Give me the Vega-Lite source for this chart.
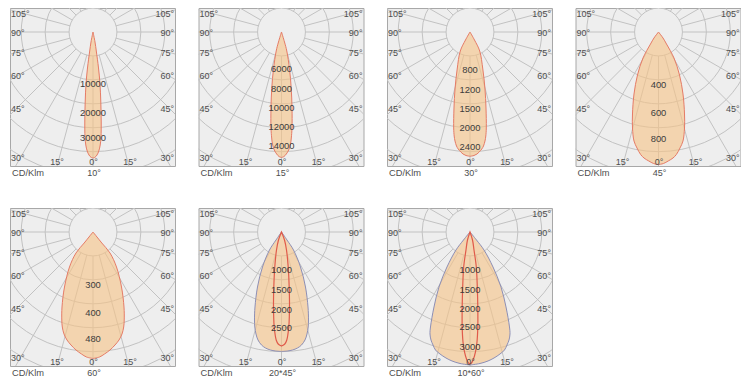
{
"$schema":"https://vega.github.io/schema/vega-lite/v6.json",
"padding":{"left":9,"top":7,"right":0,"bottom":0},
"bounds":"flush",
"columns":4,
"spacing":{"row":42,"column":23.5},
"config":{"view":{"fill":"#eeeeee","stroke":"#a8a8a8","strokeWidth":1},"text":{"font":"Liberation Sans"}},
"datasets":{
"rings":[{"x":0,"y":0,"r":2},{"x":0,"y":0,"r":3},{"x":0,"y":0,"r":4},{"x":0,"y":0,"r":5},{"x":0,"y":0,"r":6},{"x":0,"y":0,"r":7},{"x":0,"y":0,"r":8},{"x":0,"y":0,"r":9}],
"spokes":[
{"x":0,"y":0,"x2":0,"y2":12},{"x":0,"y":0,"x2":3.106,"y2":11.591},{"x":0,"y":0,"x2":6,"y2":10.392},{"x":0,"y":0,"x2":8.485,"y2":8.485},{"x":0,"y":0,"x2":10.392,"y2":6},{"x":0,"y":0,"x2":11.591,"y2":3.106},
{"x":0,"y":0,"x2":12,"y2":0},{"x":0,"y":0,"x2":11.591,"y2":-3.106},{"x":0,"y":0,"x2":10.392,"y2":-6},{"x":0,"y":0,"x2":8.485,"y2":-8.485},{"x":0,"y":0,"x2":6,"y2":-10.392},{"x":0,"y":0,"x2":3.106,"y2":-11.591},
{"x":0,"y":0,"x2":0,"y2":-12},{"x":0,"y":0,"x2":-3.106,"y2":-11.591},{"x":0,"y":0,"x2":-6,"y2":-10.392},{"x":0,"y":0,"x2":-8.485,"y2":-8.485},{"x":0,"y":0,"x2":-10.392,"y2":-6},{"x":0,"y":0,"x2":-11.591,"y2":-3.106},
{"x":0,"y":0,"x2":-12,"y2":0},{"x":0,"y":0,"x2":-11.591,"y2":3.106},{"x":0,"y":0,"x2":-10.392,"y2":6},{"x":0,"y":0,"x2":-8.485,"y2":8.485},{"x":0,"y":0,"x2":-6,"y2":10.392},{"x":0,"y":0,"x2":-3.106,"y2":11.591}],
"angA":[
{"s":"L","t":"105°","x":-3.037,"y":-0.667},{"s":"L","t":"90°","x":-3.037,"y":0.037},{"s":"L","t":"75°","x":-3.037,"y":0.778},{"s":"L","t":"60°","x":-3.037,"y":1.63},{"s":"L","t":"45°","x":-3.037,"y":2.852},{"s":"L","t":"30°","x":-3.037,"y":4.667},
{"s":"R","t":"105°","x":3.0,"y":-0.667},{"s":"R","t":"90°","x":3.0,"y":0.037},{"s":"R","t":"75°","x":3.0,"y":0.778},{"s":"R","t":"60°","x":3.0,"y":1.63},{"s":"R","t":"45°","x":3.0,"y":2.852},{"s":"R","t":"30°","x":3.0,"y":4.667},
{"s":"B","t":"15°","x":-1.333,"y":4.815},{"s":"B","t":"0°","x":0.019,"y":4.815},{"s":"B","t":"15°","x":1.37,"y":4.815},
{"s":"K","t":"CD/Klm","x":-3.0,"y":5.222}],
"angB":[
{"s":"L","t":"105°","x":-4.316,"y":-0.947},{"s":"L","t":"90°","x":-4.316,"y":0.053},{"s":"L","t":"75°","x":-4.316,"y":1.105},{"s":"L","t":"60°","x":-4.316,"y":2.316},{"s":"L","t":"45°","x":-4.316,"y":4.053},{"s":"L","t":"30°","x":-4.316,"y":6.632},
{"s":"R","t":"105°","x":4.263,"y":-0.947},{"s":"R","t":"90°","x":4.263,"y":0.053},{"s":"R","t":"75°","x":4.263,"y":1.105},{"s":"R","t":"60°","x":4.263,"y":2.316},{"s":"R","t":"45°","x":4.263,"y":4.053},{"s":"R","t":"30°","x":4.263,"y":6.632},
{"s":"B","t":"15°","x":-1.895,"y":6.842},{"s":"B","t":"0°","x":0.026,"y":6.842},{"s":"B","t":"15°","x":1.947,"y":6.842},
{"s":"K","t":"CD/Klm","x":-4.263,"y":7.421}],
"beam":[
{"p":1,"t":"10°","x":0.037,"y":5.222},{"p":2,"t":"15°","x":0.053,"y":7.421},{"p":3,"t":"30°","x":0.053,"y":7.421},{"p":4,"t":"45°","x":0.037,"y":5.222},
{"p":5,"t":"60°","x":0.037,"y":5.222},{"p":6,"t":"20*45°","x":0.053,"y":7.421},{"p":7,"t":"10*60°","x":0.053,"y":7.421}],
"vals":[
{"p":1,"t":"10000","x":0,"y":1.93},{"p":1,"t":"20000","x":0,"y":3.0},{"p":1,"t":"30000","x":0,"y":3.93},
{"p":2,"t":"6000","x":0,"y":1.96},{"p":2,"t":"8000","x":0,"y":3.02},{"p":2,"t":"10000","x":0,"y":4.02},{"p":2,"t":"12000","x":0,"y":5.02},{"p":2,"t":"14000","x":0,"y":6.02},
{"p":3,"t":"800","x":0,"y":2.0},{"p":3,"t":"1200","x":0,"y":3.07},{"p":3,"t":"1500","x":0,"y":4.07},{"p":3,"t":"2000","x":0,"y":5.07},{"p":3,"t":"2400","x":0,"y":6.07},
{"p":4,"t":"400","x":0,"y":1.97},{"p":4,"t":"600","x":0,"y":3.01},{"p":4,"t":"800","x":0,"y":3.97},
{"p":5,"t":"300","x":0,"y":1.95},{"p":5,"t":"400","x":0,"y":2.99},{"p":5,"t":"480","x":0,"y":3.95},
{"p":6,"t":"1000","x":0,"y":2.0},{"p":6,"t":"1500","x":0,"y":3.07},{"p":6,"t":"2000","x":0,"y":4.08},{"p":6,"t":"2500","x":0,"y":5.05},
{"p":7,"t":"1000","x":0,"y":1.98},{"p":7,"t":"1500","x":0,"y":3.03},{"p":7,"t":"2000","x":0,"y":4.05},{"p":7,"t":"2500","x":0,"y":5.0},{"p":7,"t":"3000","x":0,"y":6.04}],
"lobes":[
{"p":1,"c":"o","y":0,"x":0,"x2":0},{"p":1,"c":"o","y":0.37,"x":-0.074,"x2":0.074},{"p":1,"c":"o","y":0.704,"x":-0.122,"x2":0.122},{"p":1,"c":"o","y":1.333,"x":-0.204,"x2":0.204},{"p":1,"c":"o","y":1.926,"x":-0.259,"x2":0.259},{"p":1,"c":"o","y":2.593,"x":-0.289,"x2":0.289},{"p":1,"c":"o","y":3.333,"x":-0.304,"x2":0.304},{"p":1,"c":"o","y":3.889,"x":-0.296,"x2":0.296},{"p":1,"c":"o","y":4.185,"x":-0.267,"x2":0.267},{"p":1,"c":"o","y":4.407,"x":-0.215,"x2":0.215},{"p":1,"c":"o","y":4.556,"x":-0.148,"x2":0.148},{"p":1,"c":"o","y":4.641,"x":-0.074,"x2":0.074},{"p":1,"c":"o","y":4.667,"x":0,"x2":0},
{"p":2,"c":"o","y":0,"x":0,"x2":0},{"p":2,"c":"o","y":0.526,"x":-0.158,"x2":0.158},{"p":2,"c":"o","y":1.0,"x":-0.279,"x2":0.279},{"p":2,"c":"o","y":1.947,"x":-0.421,"x2":0.421},{"p":2,"c":"o","y":2.947,"x":-0.511,"x2":0.511},{"p":2,"c":"o","y":4.0,"x":-0.553,"x2":0.553},{"p":2,"c":"o","y":5.053,"x":-0.553,"x2":0.553},{"p":2,"c":"o","y":5.579,"x":-0.516,"x2":0.516},{"p":2,"c":"o","y":5.895,"x":-0.474,"x2":0.474},{"p":2,"c":"o","y":6.211,"x":-0.379,"x2":0.379},{"p":2,"c":"o","y":6.421,"x":-0.253,"x2":0.253},{"p":2,"c":"o","y":6.553,"x":-0.132,"x2":0.132},{"p":2,"c":"o","y":6.605,"x":0,"x2":0},
{"p":3,"c":"o","y":0,"x":0,"x2":0},{"p":3,"c":"o","y":0.421,"x":-0.237,"x2":0.237},{"p":3,"c":"o","y":1.0,"x":-0.511,"x2":0.511},{"p":3,"c":"o","y":1.947,"x":-0.674,"x2":0.674},{"p":3,"c":"o","y":3.0,"x":-0.789,"x2":0.789},{"p":3,"c":"o","y":4.0,"x":-0.842,"x2":0.842},{"p":3,"c":"o","y":5.053,"x":-0.858,"x2":0.858},{"p":3,"c":"o","y":5.474,"x":-0.832,"x2":0.832},{"p":3,"c":"o","y":5.737,"x":-0.789,"x2":0.789},{"p":3,"c":"o","y":6.0,"x":-0.711,"x2":0.711},{"p":3,"c":"o","y":6.158,"x":-0.621,"x2":0.621},{"p":3,"c":"o","y":6.316,"x":-0.484,"x2":0.484},{"p":3,"c":"o","y":6.421,"x":-0.368,"x2":0.368},{"p":3,"c":"o","y":6.5,"x":-0.211,"x2":0.211},{"p":3,"c":"o","y":6.542,"x":0,"x2":0},
{"p":4,"c":"o","y":0,"x":0,"x2":0},{"p":4,"c":"o","y":0.222,"x":-0.167,"x2":0.167},{"p":4,"c":"o","y":0.444,"x":-0.296,"x2":0.296},{"p":4,"c":"o","y":0.963,"x":-0.574,"x2":0.574},{"p":4,"c":"o","y":1.593,"x":-0.778,"x2":0.778},{"p":4,"c":"o","y":2.296,"x":-0.907,"x2":0.907},{"p":4,"c":"o","y":3.037,"x":-0.963,"x2":0.963},{"p":4,"c":"o","y":3.556,"x":-0.963,"x2":0.963},{"p":4,"c":"o","y":4.037,"x":-0.907,"x2":0.907},{"p":4,"c":"o","y":4.296,"x":-0.796,"x2":0.796},{"p":4,"c":"o","y":4.541,"x":-0.659,"x2":0.659},{"p":4,"c":"o","y":4.667,"x":-0.537,"x2":0.537},{"p":4,"c":"o","y":4.778,"x":-0.359,"x2":0.359},{"p":4,"c":"o","y":4.87,"x":-0.185,"x2":0.185},{"p":4,"c":"o","y":4.911,"x":0,"x2":0},
{"p":5,"c":"o","y":0,"x":0,"x2":0},{"p":5,"c":"o","y":0.185,"x":-0.148,"x2":0.148},{"p":5,"c":"o","y":0.407,"x":-0.326,"x2":0.326},{"p":5,"c":"o","y":0.778,"x":-0.63,"x2":0.63},{"p":5,"c":"o","y":1.296,"x":-0.87,"x2":0.87},{"p":5,"c":"o","y":2.037,"x":-1.056,"x2":1.056},{"p":5,"c":"o","y":2.778,"x":-1.148,"x2":1.148},{"p":5,"c":"o","y":3.259,"x":-1.156,"x2":1.156},{"p":5,"c":"o","y":3.519,"x":-1.137,"x2":1.137},{"p":5,"c":"o","y":3.778,"x":-1.074,"x2":1.074},{"p":5,"c":"o","y":4.0,"x":-0.963,"x2":0.963},{"p":5,"c":"o","y":4.185,"x":-0.815,"x2":0.815},{"p":5,"c":"o","y":4.37,"x":-0.63,"x2":0.63},{"p":5,"c":"o","y":4.519,"x":-0.426,"x2":0.426},{"p":5,"c":"o","y":4.63,"x":-0.241,"x2":0.241},{"p":5,"c":"o","y":4.685,"x":0,"x2":0},
{"p":6,"c":"o","y":0,"x":0,"x2":0},{"p":6,"c":"o","y":0.421,"x":-0.289,"x2":0.289},{"p":6,"c":"o","y":0.947,"x":-0.632,"x2":0.632},{"p":6,"c":"o","y":1.842,"x":-1.0,"x2":1.0},{"p":6,"c":"o","y":2.895,"x":-1.263,"x2":1.263},{"p":6,"c":"o","y":3.947,"x":-1.395,"x2":1.395},{"p":6,"c":"o","y":4.632,"x":-1.421,"x2":1.421},{"p":6,"c":"o","y":5.0,"x":-1.405,"x2":1.405},{"p":6,"c":"o","y":5.368,"x":-1.342,"x2":1.342},{"p":6,"c":"o","y":5.684,"x":-1.237,"x2":1.237},{"p":6,"c":"o","y":5.947,"x":-1.053,"x2":1.053},{"p":6,"c":"o","y":6.105,"x":-0.842,"x2":0.842},{"p":6,"c":"o","y":6.211,"x":-0.579,"x2":0.579},{"p":6,"c":"o","y":6.263,"x":-0.316,"x2":0.316},{"p":6,"c":"o","y":6.289,"x":0,"x2":0},
{"p":6,"c":"i","y":0,"x":0,"x2":0},{"p":6,"c":"i","y":0.421,"x":-0.158,"x2":0.158},{"p":6,"c":"i","y":0.947,"x":-0.263,"x2":0.263},{"p":6,"c":"i","y":1.842,"x":-0.353,"x2":0.353},{"p":6,"c":"i","y":2.895,"x":-0.405,"x2":0.405},{"p":6,"c":"i","y":3.684,"x":-0.421,"x2":0.421},{"p":6,"c":"i","y":4.474,"x":-0.411,"x2":0.411},{"p":6,"c":"i","y":5.0,"x":-0.384,"x2":0.384},{"p":6,"c":"i","y":5.421,"x":-0.332,"x2":0.332},{"p":6,"c":"i","y":5.684,"x":-0.279,"x2":0.279},{"p":6,"c":"i","y":5.895,"x":-0.174,"x2":0.174},{"p":6,"c":"i","y":6.0,"x":0,"x2":0},
{"p":7,"c":"o","y":0,"x":0,"x2":0},{"p":7,"c":"o","y":0.421,"x":-0.342,"x2":0.342},{"p":7,"c":"o","y":0.947,"x":-0.737,"x2":0.737},{"p":7,"c":"o","y":1.842,"x":-1.211,"x2":1.211},{"p":7,"c":"o","y":2.895,"x":-1.632,"x2":1.632},{"p":7,"c":"o","y":3.947,"x":-1.895,"x2":1.895},{"p":7,"c":"o","y":5.0,"x":-2.079,"x2":2.079},{"p":7,"c":"o","y":5.368,"x":-2.105,"x2":2.105},{"p":7,"c":"o","y":5.684,"x":-2.053,"x2":2.053},{"p":7,"c":"o","y":5.947,"x":-1.947,"x2":1.947},{"p":7,"c":"o","y":6.211,"x":-1.816,"x2":1.816},{"p":7,"c":"o","y":6.421,"x":-1.579,"x2":1.579},{"p":7,"c":"o","y":6.632,"x":-1.263,"x2":1.263},{"p":7,"c":"o","y":6.789,"x":-0.947,"x2":0.947},{"p":7,"c":"o","y":6.921,"x":-0.526,"x2":0.526},{"p":7,"c":"o","y":7.0,"x":0,"x2":0},
{"p":7,"c":"i","y":0,"x":0,"x2":0},{"p":7,"c":"i","y":0.421,"x":-0.132,"x2":0.132},{"p":7,"c":"i","y":0.947,"x":-0.211,"x2":0.211},{"p":7,"c":"i","y":1.842,"x":-0.332,"x2":0.332},{"p":7,"c":"i","y":2.895,"x":-0.384,"x2":0.384},{"p":7,"c":"i","y":3.947,"x":-0.411,"x2":0.411},{"p":7,"c":"i","y":5.0,"x":-0.411,"x2":0.411},{"p":7,"c":"i","y":5.789,"x":-0.368,"x2":0.368},{"p":7,"c":"i","y":6.316,"x":-0.289,"x2":0.289},{"p":7,"c":"i","y":6.684,"x":-0.184,"x2":0.184},{"p":7,"c":"i","y":6.895,"x":-0.079,"x2":0.079},{"p":7,"c":"i","y":6.947,"x":0,"x2":0}]
},
"concat":[
{"width":165,"height":158,
"encoding":{"x":{"field":"x","type":"quantitative","axis":null,"stack":null,"scale":{"domain":[-3.074,3.037],"nice":false,"zero":false}},"y":{"field":"y","type":"quantitative","axis":null,"stack":null,"scale":{"domain":[-0.889,4.963],"nice":false,"zero":false,"reverse":true}}},
"layer":[
{"data":{"name":"rings"},"mark":{"type":"point","shape":"circle","filled":false,"stroke":"#c2c2c2","strokeWidth":1,"opacity":1,"clip":true},"encoding":{"size":{"field":"r","type":"quantitative","legend":null,"scale":{"type":"pow","exponent":2,"domain":[0,1],"range":[0,2290.2]}}}},
{"data":{"name":"spokes"},"mark":{"type":"rule","stroke":"#c2c2c2","strokeWidth":1,"clip":true},"encoding":{"x2":{"field":"x2"},"y2":{"field":"y2"}}},
{"data":{"values":[{"x":0,"y":0,"r":1}]},"mark":{"type":"point","shape":"circle","filled":true,"fill":"#eeeeee","stroke":"#c2c2c2","strokeWidth":1,"opacity":1,"clip":true},"encoding":{"size":{"field":"r","type":"quantitative","legend":null,"scale":{"type":"pow","exponent":2,"domain":[0,1],"range":[0,2290.2]}}}},
{"data":{"name":"lobes"},"transform":[{"filter":"datum.p==1 && datum.c=='o'"}],"mark":{"type":"area","orient":"horizontal","interpolate":"catmull-rom","fill":"#f5c388","fillOpacity":0.62,"stroke":"#e57b66","strokeWidth":1},"encoding":{"x2":{"field":"x2"}}},
{"data":{"name":"vals"},"transform":[{"filter":"datum.p==1"}],"mark":{"type":"text","fontSize":9.4,"color":"#3c3c3c","align":"center","baseline":"middle"},"encoding":{"text":{"field":"t"}}},
{"data":{"name":"angA"},"transform":[{"filter":"datum.s=='L'"}],"mark":{"type":"text","fontSize":9,"color":"#4d4d4d","align":"left","baseline":"middle"},"encoding":{"text":{"field":"t"}}},
{"data":{"name":"angA"},"transform":[{"filter":"datum.s=='R'"}],"mark":{"type":"text","fontSize":9,"color":"#4d4d4d","align":"right","baseline":"middle"},"encoding":{"text":{"field":"t"}}},
{"data":{"name":"angA"},"transform":[{"filter":"datum.s=='B'"}],"mark":{"type":"text","fontSize":9,"color":"#4d4d4d","align":"center","baseline":"middle"},"encoding":{"text":{"field":"t"}}},
{"data":{"name":"angA"},"transform":[{"filter":"datum.s=='K'"}],"mark":{"type":"text","fontSize":9.3,"color":"#4d4d4d","align":"left","baseline":"middle"},"encoding":{"text":{"field":"t"}}},
{"data":{"name":"beam"},"transform":[{"filter":"datum.p==1"}],"mark":{"type":"text","fontSize":9,"color":"#4d4d4d","align":"center","baseline":"middle"},"encoding":{"text":{"field":"t"}}}
]},
{"width":165,"height":158,
"encoding":{"x":{"field":"x","type":"quantitative","axis":null,"stack":null,"scale":{"domain":[-4.368,4.316],"nice":false,"zero":false}},"y":{"field":"y","type":"quantitative","axis":null,"stack":null,"scale":{"domain":[-1.263,7.053],"nice":false,"zero":false,"reverse":true}}},
"layer":[
{"data":{"name":"rings"},"mark":{"type":"point","shape":"circle","filled":false,"stroke":"#c2c2c2","strokeWidth":1,"opacity":1,"clip":true},"encoding":{"size":{"field":"r","type":"quantitative","legend":null,"scale":{"type":"pow","exponent":2,"domain":[0,1],"range":[0,1134.1]}}}},
{"data":{"name":"spokes"},"mark":{"type":"rule","stroke":"#c2c2c2","strokeWidth":1,"clip":true},"encoding":{"x2":{"field":"x2"},"y2":{"field":"y2"}}},
{"data":{"values":[{"x":0,"y":0,"r":1}]},"mark":{"type":"point","shape":"circle","filled":true,"fill":"#eeeeee","stroke":"#c2c2c2","strokeWidth":1,"opacity":1,"clip":true},"encoding":{"size":{"field":"r","type":"quantitative","legend":null,"scale":{"type":"pow","exponent":2,"domain":[0,1],"range":[0,1134.1]}}}},
{"data":{"name":"lobes"},"transform":[{"filter":"datum.p==2 && datum.c=='o'"}],"mark":{"type":"area","orient":"horizontal","interpolate":"catmull-rom","fill":"#f5c388","fillOpacity":0.62,"stroke":"#e57b66","strokeWidth":1},"encoding":{"x2":{"field":"x2"}}},
{"data":{"name":"vals"},"transform":[{"filter":"datum.p==2"}],"mark":{"type":"text","fontSize":9.4,"color":"#3c3c3c","align":"center","baseline":"middle"},"encoding":{"text":{"field":"t"}}},
{"data":{"name":"angB"},"transform":[{"filter":"datum.s=='L'"}],"mark":{"type":"text","fontSize":9,"color":"#4d4d4d","align":"left","baseline":"middle"},"encoding":{"text":{"field":"t"}}},
{"data":{"name":"angB"},"transform":[{"filter":"datum.s=='R'"}],"mark":{"type":"text","fontSize":9,"color":"#4d4d4d","align":"right","baseline":"middle"},"encoding":{"text":{"field":"t"}}},
{"data":{"name":"angB"},"transform":[{"filter":"datum.s=='B'"}],"mark":{"type":"text","fontSize":9,"color":"#4d4d4d","align":"center","baseline":"middle"},"encoding":{"text":{"field":"t"}}},
{"data":{"name":"angB"},"transform":[{"filter":"datum.s=='K'"}],"mark":{"type":"text","fontSize":9.3,"color":"#4d4d4d","align":"left","baseline":"middle"},"encoding":{"text":{"field":"t"}}},
{"data":{"name":"beam"},"transform":[{"filter":"datum.p==2"}],"mark":{"type":"text","fontSize":9,"color":"#4d4d4d","align":"center","baseline":"middle"},"encoding":{"text":{"field":"t"}}}
]},
{"width":165,"height":158,
"encoding":{"x":{"field":"x","type":"quantitative","axis":null,"stack":null,"scale":{"domain":[-4.368,4.316],"nice":false,"zero":false}},"y":{"field":"y","type":"quantitative","axis":null,"stack":null,"scale":{"domain":[-1.263,7.053],"nice":false,"zero":false,"reverse":true}}},
"layer":[
{"data":{"name":"rings"},"mark":{"type":"point","shape":"circle","filled":false,"stroke":"#c2c2c2","strokeWidth":1,"opacity":1,"clip":true},"encoding":{"size":{"field":"r","type":"quantitative","legend":null,"scale":{"type":"pow","exponent":2,"domain":[0,1],"range":[0,1134.1]}}}},
{"data":{"name":"spokes"},"mark":{"type":"rule","stroke":"#c2c2c2","strokeWidth":1,"clip":true},"encoding":{"x2":{"field":"x2"},"y2":{"field":"y2"}}},
{"data":{"values":[{"x":0,"y":0,"r":1}]},"mark":{"type":"point","shape":"circle","filled":true,"fill":"#eeeeee","stroke":"#c2c2c2","strokeWidth":1,"opacity":1,"clip":true},"encoding":{"size":{"field":"r","type":"quantitative","legend":null,"scale":{"type":"pow","exponent":2,"domain":[0,1],"range":[0,1134.1]}}}},
{"data":{"name":"lobes"},"transform":[{"filter":"datum.p==3 && datum.c=='o'"}],"mark":{"type":"area","orient":"horizontal","interpolate":"catmull-rom","fill":"#f5c388","fillOpacity":0.62,"stroke":"#e57b66","strokeWidth":1},"encoding":{"x2":{"field":"x2"}}},
{"data":{"name":"vals"},"transform":[{"filter":"datum.p==3"}],"mark":{"type":"text","fontSize":9.4,"color":"#3c3c3c","align":"center","baseline":"middle"},"encoding":{"text":{"field":"t"}}},
{"data":{"name":"angB"},"transform":[{"filter":"datum.s=='L'"}],"mark":{"type":"text","fontSize":9,"color":"#4d4d4d","align":"left","baseline":"middle"},"encoding":{"text":{"field":"t"}}},
{"data":{"name":"angB"},"transform":[{"filter":"datum.s=='R'"}],"mark":{"type":"text","fontSize":9,"color":"#4d4d4d","align":"right","baseline":"middle"},"encoding":{"text":{"field":"t"}}},
{"data":{"name":"angB"},"transform":[{"filter":"datum.s=='B'"}],"mark":{"type":"text","fontSize":9,"color":"#4d4d4d","align":"center","baseline":"middle"},"encoding":{"text":{"field":"t"}}},
{"data":{"name":"angB"},"transform":[{"filter":"datum.s=='K'"}],"mark":{"type":"text","fontSize":9.3,"color":"#4d4d4d","align":"left","baseline":"middle"},"encoding":{"text":{"field":"t"}}},
{"data":{"name":"beam"},"transform":[{"filter":"datum.p==3"}],"mark":{"type":"text","fontSize":9,"color":"#4d4d4d","align":"center","baseline":"middle"},"encoding":{"text":{"field":"t"}}}
]},
{"width":165,"height":158,
"encoding":{"x":{"field":"x","type":"quantitative","axis":null,"stack":null,"scale":{"domain":[-3.074,3.037],"nice":false,"zero":false}},"y":{"field":"y","type":"quantitative","axis":null,"stack":null,"scale":{"domain":[-0.889,4.963],"nice":false,"zero":false,"reverse":true}}},
"layer":[
{"data":{"name":"rings"},"mark":{"type":"point","shape":"circle","filled":false,"stroke":"#c2c2c2","strokeWidth":1,"opacity":1,"clip":true},"encoding":{"size":{"field":"r","type":"quantitative","legend":null,"scale":{"type":"pow","exponent":2,"domain":[0,1],"range":[0,2290.2]}}}},
{"data":{"name":"spokes"},"mark":{"type":"rule","stroke":"#c2c2c2","strokeWidth":1,"clip":true},"encoding":{"x2":{"field":"x2"},"y2":{"field":"y2"}}},
{"data":{"values":[{"x":0,"y":0,"r":1}]},"mark":{"type":"point","shape":"circle","filled":true,"fill":"#eeeeee","stroke":"#c2c2c2","strokeWidth":1,"opacity":1,"clip":true},"encoding":{"size":{"field":"r","type":"quantitative","legend":null,"scale":{"type":"pow","exponent":2,"domain":[0,1],"range":[0,2290.2]}}}},
{"data":{"name":"lobes"},"transform":[{"filter":"datum.p==4 && datum.c=='o'"}],"mark":{"type":"area","orient":"horizontal","interpolate":"catmull-rom","fill":"#f5c388","fillOpacity":0.62,"stroke":"#e57b66","strokeWidth":1},"encoding":{"x2":{"field":"x2"}}},
{"data":{"name":"vals"},"transform":[{"filter":"datum.p==4"}],"mark":{"type":"text","fontSize":9.4,"color":"#3c3c3c","align":"center","baseline":"middle"},"encoding":{"text":{"field":"t"}}},
{"data":{"name":"angA"},"transform":[{"filter":"datum.s=='L'"}],"mark":{"type":"text","fontSize":9,"color":"#4d4d4d","align":"left","baseline":"middle"},"encoding":{"text":{"field":"t"}}},
{"data":{"name":"angA"},"transform":[{"filter":"datum.s=='R'"}],"mark":{"type":"text","fontSize":9,"color":"#4d4d4d","align":"right","baseline":"middle"},"encoding":{"text":{"field":"t"}}},
{"data":{"name":"angA"},"transform":[{"filter":"datum.s=='B'"}],"mark":{"type":"text","fontSize":9,"color":"#4d4d4d","align":"center","baseline":"middle"},"encoding":{"text":{"field":"t"}}},
{"data":{"name":"angA"},"transform":[{"filter":"datum.s=='K'"}],"mark":{"type":"text","fontSize":9.3,"color":"#4d4d4d","align":"left","baseline":"middle"},"encoding":{"text":{"field":"t"}}},
{"data":{"name":"beam"},"transform":[{"filter":"datum.p==4"}],"mark":{"type":"text","fontSize":9,"color":"#4d4d4d","align":"center","baseline":"middle"},"encoding":{"text":{"field":"t"}}}
]},
{"width":165,"height":158,
"encoding":{"x":{"field":"x","type":"quantitative","axis":null,"stack":null,"scale":{"domain":[-3.074,3.037],"nice":false,"zero":false}},"y":{"field":"y","type":"quantitative","axis":null,"stack":null,"scale":{"domain":[-0.889,4.963],"nice":false,"zero":false,"reverse":true}}},
"layer":[
{"data":{"name":"rings"},"mark":{"type":"point","shape":"circle","filled":false,"stroke":"#c2c2c2","strokeWidth":1,"opacity":1,"clip":true},"encoding":{"size":{"field":"r","type":"quantitative","legend":null,"scale":{"type":"pow","exponent":2,"domain":[0,1],"range":[0,2290.2]}}}},
{"data":{"name":"spokes"},"mark":{"type":"rule","stroke":"#c2c2c2","strokeWidth":1,"clip":true},"encoding":{"x2":{"field":"x2"},"y2":{"field":"y2"}}},
{"data":{"values":[{"x":0,"y":0,"r":1}]},"mark":{"type":"point","shape":"circle","filled":true,"fill":"#eeeeee","stroke":"#c2c2c2","strokeWidth":1,"opacity":1,"clip":true},"encoding":{"size":{"field":"r","type":"quantitative","legend":null,"scale":{"type":"pow","exponent":2,"domain":[0,1],"range":[0,2290.2]}}}},
{"data":{"name":"lobes"},"transform":[{"filter":"datum.p==5 && datum.c=='o'"}],"mark":{"type":"area","orient":"horizontal","interpolate":"catmull-rom","fill":"#f5c388","fillOpacity":0.62,"stroke":"#e57b66","strokeWidth":1},"encoding":{"x2":{"field":"x2"}}},
{"data":{"name":"vals"},"transform":[{"filter":"datum.p==5"}],"mark":{"type":"text","fontSize":9.4,"color":"#3c3c3c","align":"center","baseline":"middle"},"encoding":{"text":{"field":"t"}}},
{"data":{"name":"angA"},"transform":[{"filter":"datum.s=='L'"}],"mark":{"type":"text","fontSize":9,"color":"#4d4d4d","align":"left","baseline":"middle"},"encoding":{"text":{"field":"t"}}},
{"data":{"name":"angA"},"transform":[{"filter":"datum.s=='R'"}],"mark":{"type":"text","fontSize":9,"color":"#4d4d4d","align":"right","baseline":"middle"},"encoding":{"text":{"field":"t"}}},
{"data":{"name":"angA"},"transform":[{"filter":"datum.s=='B'"}],"mark":{"type":"text","fontSize":9,"color":"#4d4d4d","align":"center","baseline":"middle"},"encoding":{"text":{"field":"t"}}},
{"data":{"name":"angA"},"transform":[{"filter":"datum.s=='K'"}],"mark":{"type":"text","fontSize":9.3,"color":"#4d4d4d","align":"left","baseline":"middle"},"encoding":{"text":{"field":"t"}}},
{"data":{"name":"beam"},"transform":[{"filter":"datum.p==5"}],"mark":{"type":"text","fontSize":9,"color":"#4d4d4d","align":"center","baseline":"middle"},"encoding":{"text":{"field":"t"}}}
]},
{"width":165,"height":158,
"encoding":{"x":{"field":"x","type":"quantitative","axis":null,"stack":null,"scale":{"domain":[-4.368,4.316],"nice":false,"zero":false}},"y":{"field":"y","type":"quantitative","axis":null,"stack":null,"scale":{"domain":[-1.263,7.053],"nice":false,"zero":false,"reverse":true}}},
"layer":[
{"data":{"name":"rings"},"mark":{"type":"point","shape":"circle","filled":false,"stroke":"#c2c2c2","strokeWidth":1,"opacity":1,"clip":true},"encoding":{"size":{"field":"r","type":"quantitative","legend":null,"scale":{"type":"pow","exponent":2,"domain":[0,1],"range":[0,1134.1]}}}},
{"data":{"name":"spokes"},"mark":{"type":"rule","stroke":"#c2c2c2","strokeWidth":1,"clip":true},"encoding":{"x2":{"field":"x2"},"y2":{"field":"y2"}}},
{"data":{"values":[{"x":0,"y":0,"r":1}]},"mark":{"type":"point","shape":"circle","filled":true,"fill":"#eeeeee","stroke":"#c2c2c2","strokeWidth":1,"opacity":1,"clip":true},"encoding":{"size":{"field":"r","type":"quantitative","legend":null,"scale":{"type":"pow","exponent":2,"domain":[0,1],"range":[0,1134.1]}}}},
{"data":{"name":"lobes"},"transform":[{"filter":"datum.p==6 && datum.c=='o'"}],"mark":{"type":"area","orient":"horizontal","interpolate":"catmull-rom","fill":"#f5c388","fillOpacity":0.62,"stroke":"#8d8fb5","strokeWidth":1},"encoding":{"x2":{"field":"x2"}}},
{"data":{"name":"lobes"},"transform":[{"filter":"datum.p==6 && datum.c=='i'"}],"mark":{"type":"area","orient":"horizontal","interpolate":"catmull-rom","fillOpacity":0,"stroke":"#e05a4a","strokeWidth":1.2},"encoding":{"x2":{"field":"x2"}}},
{"data":{"name":"vals"},"transform":[{"filter":"datum.p==6"}],"mark":{"type":"text","fontSize":9.4,"color":"#3c3c3c","align":"center","baseline":"middle"},"encoding":{"text":{"field":"t"}}},
{"data":{"name":"angB"},"transform":[{"filter":"datum.s=='L'"}],"mark":{"type":"text","fontSize":9,"color":"#4d4d4d","align":"left","baseline":"middle"},"encoding":{"text":{"field":"t"}}},
{"data":{"name":"angB"},"transform":[{"filter":"datum.s=='R'"}],"mark":{"type":"text","fontSize":9,"color":"#4d4d4d","align":"right","baseline":"middle"},"encoding":{"text":{"field":"t"}}},
{"data":{"name":"angB"},"transform":[{"filter":"datum.s=='B'"}],"mark":{"type":"text","fontSize":9,"color":"#4d4d4d","align":"center","baseline":"middle"},"encoding":{"text":{"field":"t"}}},
{"data":{"name":"angB"},"transform":[{"filter":"datum.s=='K'"}],"mark":{"type":"text","fontSize":9.3,"color":"#4d4d4d","align":"left","baseline":"middle"},"encoding":{"text":{"field":"t"}}},
{"data":{"name":"beam"},"transform":[{"filter":"datum.p==6"}],"mark":{"type":"text","fontSize":9,"color":"#4d4d4d","align":"center","baseline":"middle"},"encoding":{"text":{"field":"t"}}}
]},
{"width":165,"height":158,
"encoding":{"x":{"field":"x","type":"quantitative","axis":null,"stack":null,"scale":{"domain":[-4.368,4.316],"nice":false,"zero":false}},"y":{"field":"y","type":"quantitative","axis":null,"stack":null,"scale":{"domain":[-1.263,7.053],"nice":false,"zero":false,"reverse":true}}},
"layer":[
{"data":{"name":"rings"},"mark":{"type":"point","shape":"circle","filled":false,"stroke":"#c2c2c2","strokeWidth":1,"opacity":1,"clip":true},"encoding":{"size":{"field":"r","type":"quantitative","legend":null,"scale":{"type":"pow","exponent":2,"domain":[0,1],"range":[0,1134.1]}}}},
{"data":{"name":"spokes"},"mark":{"type":"rule","stroke":"#c2c2c2","strokeWidth":1,"clip":true},"encoding":{"x2":{"field":"x2"},"y2":{"field":"y2"}}},
{"data":{"values":[{"x":0,"y":0,"r":1}]},"mark":{"type":"point","shape":"circle","filled":true,"fill":"#eeeeee","stroke":"#c2c2c2","strokeWidth":1,"opacity":1,"clip":true},"encoding":{"size":{"field":"r","type":"quantitative","legend":null,"scale":{"type":"pow","exponent":2,"domain":[0,1],"range":[0,1134.1]}}}},
{"data":{"name":"lobes"},"transform":[{"filter":"datum.p==7 && datum.c=='o'"}],"mark":{"type":"area","orient":"horizontal","interpolate":"catmull-rom","fill":"#f5c388","fillOpacity":0.62,"stroke":"#8d8fb5","strokeWidth":1},"encoding":{"x2":{"field":"x2"}}},
{"data":{"name":"lobes"},"transform":[{"filter":"datum.p==7 && datum.c=='i'"}],"mark":{"type":"area","orient":"horizontal","interpolate":"catmull-rom","fillOpacity":0,"stroke":"#e05a4a","strokeWidth":1.2},"encoding":{"x2":{"field":"x2"}}},
{"data":{"name":"vals"},"transform":[{"filter":"datum.p==7"}],"mark":{"type":"text","fontSize":9.4,"color":"#3c3c3c","align":"center","baseline":"middle"},"encoding":{"text":{"field":"t"}}},
{"data":{"name":"angB"},"transform":[{"filter":"datum.s=='L'"}],"mark":{"type":"text","fontSize":9,"color":"#4d4d4d","align":"left","baseline":"middle"},"encoding":{"text":{"field":"t"}}},
{"data":{"name":"angB"},"transform":[{"filter":"datum.s=='R'"}],"mark":{"type":"text","fontSize":9,"color":"#4d4d4d","align":"right","baseline":"middle"},"encoding":{"text":{"field":"t"}}},
{"data":{"name":"angB"},"transform":[{"filter":"datum.s=='B'"}],"mark":{"type":"text","fontSize":9,"color":"#4d4d4d","align":"center","baseline":"middle"},"encoding":{"text":{"field":"t"}}},
{"data":{"name":"angB"},"transform":[{"filter":"datum.s=='K'"}],"mark":{"type":"text","fontSize":9.3,"color":"#4d4d4d","align":"left","baseline":"middle"},"encoding":{"text":{"field":"t"}}},
{"data":{"name":"beam"},"transform":[{"filter":"datum.p==7"}],"mark":{"type":"text","fontSize":9,"color":"#4d4d4d","align":"center","baseline":"middle"},"encoding":{"text":{"field":"t"}}}
]}
]
}
